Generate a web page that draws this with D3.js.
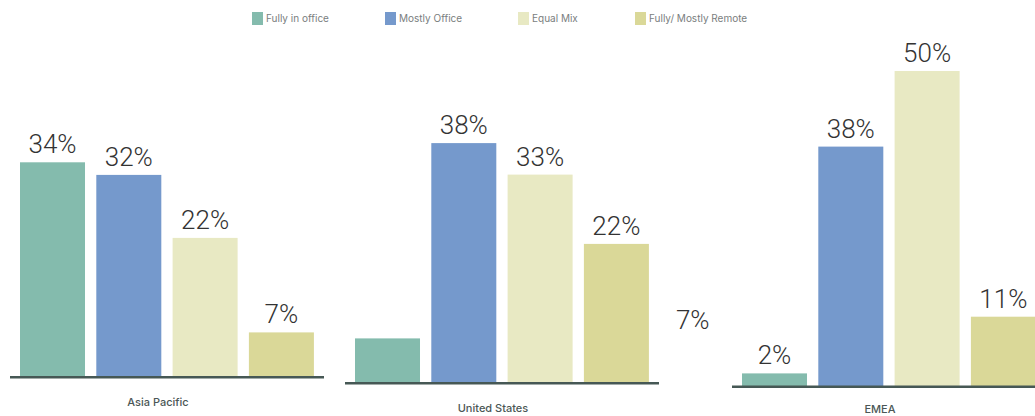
<!DOCTYPE html>
<html>
<head>
<meta charset="utf-8">
<script src="https://cdn.jsdelivr.net/npm/d3@7"></script>
<style>
  html, body { margin: 0; padding: 0; background: #ffffff; }
  svg { display: block; }
</style>
</head>
<body>
<svg id="chart" width="1035" height="416"></svg>
<script>
// Work arrangement by region (share of respondents, %)
const categories = ["Fully in office", "Mostly Office", "Equal Mix", "Fully/ Mostly Remote"];
const regions = ["Asia Pacific", "United States", "EMEA"];
const asiaPacific = [34, 32, 22, 7];
const unitedStates = [7, 38, 33, 22];
const emea = [2, 38, 50, 11];
const valueLabels = ["34%", "32%", "22%", "7%", "7%", "38%", "33%", "22%", "2%", "38%", "50%", "11%"];

const seriesByRegion = [asiaPacific, unitedStates, emea];
const colors = ["#84bbad", "#7599cc", "#e8e9c3", "#dad898"];

const svg = d3.select("#chart");

// Panel layout: each region gets its own small axis strip
const panels = [
  { left: 10,  base: 376.5 },
  { left: 345, base: 382.5 },
  { left: 732, base: 386 }
];
const panelWidth = 314;

const color = d3.scaleOrdinal().domain(categories).range(colors);

// Height scale shared by all panels
const h = d3.scaleLinear().domain([0, 50]).range([0, 315]);

// Band scale within a panel (local coordinates)
const step = 76.3;
const x = d3.scaleBand()
  .domain(categories)
  .range([10, 10 + step * 4 - step * 0.148])
  .paddingInner(0.148)
  .paddingOuter(0);

const numFont = "Roboto, 'Liberation Sans', sans-serif";
const labelFont = "Inter, 'Open Sans', sans-serif";

regions.forEach((region, r) => {
  const p = panels[r];
  const g = svg.append("g").attr("transform", `translate(${p.left},0)`);
  const values = seriesByRegion[r];

  g.selectAll("rect.bar")
    .data(values)
    .join("rect")
    .attr("class", "bar")
    .attr("x", (d, i) => x(categories[i]))
    .attr("width", x.bandwidth())
    .attr("y", d => p.base - h(d))
    .attr("height", d => h(d))
    .attr("fill", (d, i) => color(categories[i]));

  // Baseline
  g.append("rect")
    .attr("x", 0)
    .attr("y", p.base - 0.5)
    .attr("width", panelWidth)
    .attr("height", 2.5)
    .attr("fill", "#465855");

  // Value labels; the US "Fully in office" label sits one slot past the last bar
  g.selectAll("text.val")
    .data(values)
    .join("text")
    .attr("class", "val")
    .attr("x", (d, i) => {
      const slot = (r === 1 && i === 0) ? 4 : i;
      return x.range()[0] + slot * x.step() + x.bandwidth() / 2;
    })
    .attr("y", d => p.base - h(d) - 9)
    .attr("text-anchor", "middle")
    .attr("font-family", numFont)
    .attr("font-weight", 300)
    .attr("font-size", 26)
    .attr("fill", "#333333")
    .text((d, i) => valueLabels[r * 4 + i]);

  // Region name, kept inside the canvas
  g.append("text")
    .attr("x", 148)
    .attr("y", Math.min(p.base + 29.5, 413))
    .attr("text-anchor", "middle")
    .attr("font-family", labelFont)
    .attr("font-weight", 500)
    .attr("font-size", 11)
    .attr("fill", "#4b5756")
    .text(region);
});

// Legend
const legendX = [252, 385, 518, 635];
const legend = svg.append("g");
categories.forEach((c, i) => {
  const lg = legend.append("g").attr("transform", `translate(${legendX[i]},12)`);
  lg.append("rect")
    .attr("width", 11).attr("height", 13)
    .attr("fill", color(c));
  lg.append("text")
    .attr("x", 14).attr("y", 10)
    .attr("font-family", labelFont)
    .attr("font-size", 10)
    .attr("fill", "#7a7e7e")
    .text(c);
});
</script>
</body>
</html>
